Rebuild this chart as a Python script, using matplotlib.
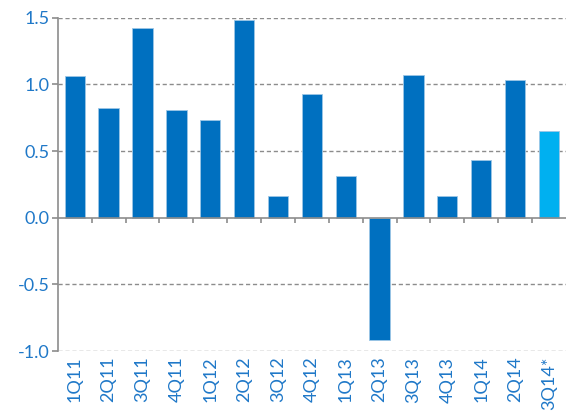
import numpy as np
import matplotlib
matplotlib.use('Agg')
import matplotlib.pyplot as plt

quarters = ['1Q11', '2Q11', '3Q11', '4Q11', '1Q12', '2Q12', '3Q12', '4Q12',
            '1Q13', '2Q13', '3Q13', '4Q13', '1Q14', '2Q14', '3Q14*']
values = [1.06, 0.825, 1.425, 0.81, 0.73, 1.485, 0.16, 0.93,
          0.31, -0.92, 1.07, 0.165, 0.435, 1.035, 0.65]
yticks = [-1.0, -0.5, 0.0, 0.5, 1.0, 1.5]

blue = '#0070C0'
light = '#00B0F0'
label_col = '#1f78c8'
grey = '#8c8c8c'

plt.rcParams['font.family'] = ['Lato', 'DejaVu Sans']

fig = plt.figure(figsize=(5.67, 4.15), dpi=100)
ax = fig.add_axes([0.102, 0.154, 0.896, 0.803])

x = np.arange(len(quarters))
colors = [blue] * (len(quarters) - 1) + [light]
ax.bar(x, values, width=0.6, color=colors, edgecolor='#9cc6e6', linewidth=0.6, zorder=3)

ax.set_xlim(-0.5, len(quarters) - 0.5)
ax.set_ylim(-1.0, 1.5)
ax.set_yticks(yticks)
ax.set_yticklabels(['%.1f' % v for v in yticks], color=label_col, fontsize=13)
for v in yticks:
    if v != 0:
        ax.axhline(v, color=grey, linestyle=(0, (3, 2)), linewidth=1, zorder=1)
ax.axhline(0, color=grey, linewidth=1.2, zorder=4)
# category separators on the zero line
ax.vlines(x[:-1] + 0.5, -0.04, 0, color=grey, linewidth=1.2, zorder=4)

ax.set_xticks(x)
ax.set_xticklabels(quarters, rotation=90, color=label_col, fontsize=13)
ax.tick_params(axis='x', length=0, pad=4)
ax.tick_params(axis='y', length=4, color=grey, width=1.2, pad=2)

for s in ['top', 'right', 'bottom']:
    ax.spines[s].set_visible(False)
ax.spines['left'].set_color(grey)
ax.spines['left'].set_linewidth(1.2)

fig.savefig('out.png', dpi=100)
